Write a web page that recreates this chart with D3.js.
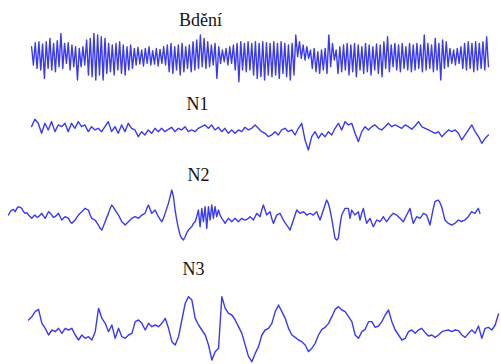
<!DOCTYPE html>
<html>
<head>
<meta charset="utf-8">
<script src="https://cdn.jsdelivr.net/npm/d3@7"></script>
<style>
  html, body { margin: 0; padding: 0; background: #fff; }
  svg { display: block; }
</style>
</head>
<body>
<div id="chart"></div>
<script>
// ---- data (amplitudes in µV, positive = up; time in seconds) ----
const stageLabels = ["Bdění", "N1", "N2", "N3"];

// time span [start, end] of each recorded trace
const bdeniSpan = [0.63, 9.75];
const n1Span    = [0.63, 9.75];
const n2Span    = [0.17, 9.58];
const n3Span    = [0.57, 9.95];

const bdeniValues = [
  30,-25,42,-35,45,-40,38,-65,45,-35,55,-40,40,-45,48,-30,70,-35,40,-20,42,-40,35,-30,30,-70,25,-30,30,-25,
  50,-55,55,-60,70,-70,65,-55,60,-70,55,-50,40,-45,35,-55,40,-40,45,-50,35,-55,30,-40,35,-35,25,-25,28,-22,
  20,-28,25,-20,30,-25,18,-22,25,-28,22,-20,30,-25,35,-45,40,-50,30,-40,35,-55,40,-45,30,-35,35,-45,45,-40,
  50,-35,65,-30,55,-35,45,-30,35,-25,40,-65,30,-20,20,-15,25,-25,30,-20,35,-40,40,-75,45,-40,40,-45,45,-40,
  40,-55,45,-65,40,-60,45,-70,42,-55,40,-60,45,-55,40,-65,45,-50,40,-60,35,-70,40,-55,65,0,45,-5,35,-10,
  30,-5,20,-35,25,-45,15,-50,20,-40,25,-50,65,-30,40,-10,20,-50,30,-45,35,-40,40,-55,35,-45,40,-60,35,-40,
  30,-50,40,-45,35,-55,30,-40,38,-50,35,-60,45,-35,60,-45,35,-30,40,-40,35,-45,40,-35,30,-40,40,-45,35,-40,
  40,-35,35,-45,65,-40,40,-35,35,-45,55,-40,40,-70,50,-35,45,-30,25,-20,20,-25,25,-20,30,-35,40,-40,45,-35,
  40,-45,45,-40,40,-35,45,-40,60,-30
];

const n1Values = [
  5,27,15,-15,15,-5,20,-10,10,5,15,-10,15,0,20,5,10,-10,5,-5,0,-10,5,20,-10,5,-15,10,-10,15,
  0,-5,-25,-10,-20,-5,-15,0,-10,0,-10,-3,3,-10,0,-5,5,-10,-5,-10,0,5,10,0,10,-5,3,-10,0,-15,
  -5,-15,-5,-10,3,-5,
  0,10,0,-10,-15,-25,-20,-10,-20,-5,0,-10,-5,-20,0,15,-35,-65,-25,-10,-30,-15,-25,-10,-20,0,15,-5,20,10,
  15,-15,-40,-10,5,-5,5,10,0,-5,5,15,5,10,5,0,10,5,-3,7,20,5,0,-5,-10,-15,-10,-25,-15,-5,
  -10,-5,-15,-35,-20,-5,10,-10,-25,-45,-30,-20
];

const n2Values = [
  5,15,20,22,15,25,30,28,25,15,10,12,5,0,-5,2,5,-2,0,5,10,2,-5,5,15,10,5,-2,0,5,
  10,0,-10,-5,0,-2,-5,-15,-20,-15,-10,-2,5,10,15,20,25,22,20,5,-5,-8,-10,-18,-25,-35,-40,-28,-15,-2,
  10,25,35,28,20,12,5,-5,-15,-20,-25,-20,-15,-10,-5,-2,0,-2,-5,0,5,8,10,25,35,22,10,15,20,10,
  0,-8,-15,-5,10,25,40,60,80,60,20,-10,-35,-55,-65,-70,-60,-48,-40,-35,-30,-20,-15,0,20,-30,25,-15,30,-35,
  30,-10,35,-5,30,0,20,5,-5,-12,-20,-12,-5,-10,-15,-10,-5,-10,-15,-10,-5,-8,-10,-8,-5,
  0,-5,-10,0,10,5,0,20,35,20,5,10,15,-5,-20,-8,5,8,10,0,-10,-18,-25,-32,-40,-25,-10,5,20,15,
  10,12,15,10,5,8,10,8,5,10,15,2,-10,5,20,35,50,40,20,-5,-35,-65,-70,-65,-25,5,15,25,25,25,
  -5,20,12,5,10,15,-10,10,25,0,-20,-12,-5,-18,-30,-20,-10,-12,-15,-8,0,-8,-15,-8,0,5,10,8,5,0,
  -5,-10,-15,-5,5,15,25,0,-20,-10,0,-2,-5,2,10,8,5,-10,-25,0,25,45,48,50,42,30,10,-10,-15,-20,
  -22,-25,-22,-20,-15,-10,-12,-15,-12,-10,-5,0,8,15,12,10,18,25,10
];

const n3Values = [
  30,40,55,62,20,5,-15,0,-5,5,-10,5,0,5,-15,-30,-15,-25,-20,-30,-5,65,35,20,-5,15,-25,5,-20,-25,
  -15,-10,25,30,20,0,20,10,15,10,20,35,5,-35,-45,-20,30,80,100,90,35,15,0,-15,-45,-90,-65,-55,100,65,
  50,45,30,10,-10,-45,-80,
  -95,-70,-50,-15,0,5,20,55,75,55,35,5,-15,-22,-30,-35,-45,-65,-55,-40,-15,2,8,20,40,62,70,60,55,40,
  25,-15,-25,-5,2,25,25,8,12,25,45,60,25,0,-15,-30,-25,-5,0,-10,0,5,-8,-18,-15,-22,-15,-5,-2,0,
  -5,0,-2,-15,-22,-10,0,-10,12,-25,5,8,0,15,48
];

// ---- layout ----
const W = 501, H = 364;
const traces = [
  { label: stageLabels[0], values: bdeniValues, span: bdeniSpan, mid: 56.7, lx: 179,   ly: 26 },
  { label: stageLabels[1], values: n1Values,    span: n1Span,    mid: 128.3, lx: 186.5, ly: 109.7 },
  { label: stageLabels[2], values: n2Values,    span: n2Span,    mid: 216.7, lx: 187.5, ly: 180.7 },
  { label: stageLabels[3], values: n3Values,    span: n3Span,    mid: 330,   lx: 182.5, ly: 275 }
];

const svg = d3.select("#chart").append("svg")
  .attr("width", W).attr("height", H)
  .style("background", "#fff");

const x = d3.scaleLinear().domain([0, 10]).range([0, W]);

traces.forEach(tr => {
  const n = tr.values.length;
  const t = d3.scaleLinear().domain([0, n - 1]).range(tr.span);
  const y = d3.scaleLinear().domain([-150, 150]).range([tr.mid + 50, tr.mid - 50]);
  const line = d3.line()
    .x((d, i) => x(t(i)))
    .y(d => y(d))
    .curve(d3.curveLinear);

  svg.append("path")
    .datum(tr.values)
    .attr("d", line)
    .attr("fill", "none")
    .attr("stroke", "#3a3af2")
    .attr("stroke-width", 1.4)
    .attr("stroke-linejoin", "round")
    .attr("stroke-linecap", "round");

  svg.append("text")
    .attr("x", tr.lx)
    .attr("y", tr.ly)
    .attr("font-family", "'Liberation Serif', 'Times New Roman', serif")
    .attr("font-size", 18)
    .attr("fill", "#141414")
    .text(tr.label);
});
</script>
</body>
</html>
